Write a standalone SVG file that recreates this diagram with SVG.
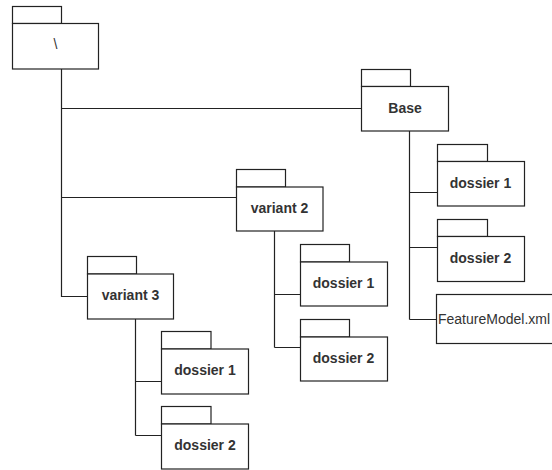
<svg xmlns="http://www.w3.org/2000/svg" width="552" height="470" viewBox="0 0 552 470">
<style>
.s{fill:#fff;stroke:#222;stroke-width:1.2}
.c{fill:none;stroke:#222;stroke-width:1.2}
.t{font-family:"Liberation Sans",Arial,sans-serif;font-size:14px;font-weight:bold;fill:#333;text-anchor:middle;dominant-baseline:central}
.tn{font-weight:normal}
.tl{font-family:"Liberation Sans",Arial,sans-serif;font-size:14px;fill:#333;dominant-baseline:central}
</style>
<rect width="552" height="470" fill="#fff"/>
<g id="connectors">
<path class="c" d="M61.5,69 V297 M61.5,108.5 H361.5 M61.5,197.5 H236.5 M61.5,296.5 H87.5"/>
<path class="c" d="M409.5,131 V319.5 M409.5,192.5 H437.5 M409.5,247.5 H437.5 M409.5,319.5 H436.5"/>
<path class="c" d="M274.5,231 V347.5 M274.5,294.5 H300.5 M274.5,347.5 H300.5"/>
<path class="c" d="M135.5,319 V435.5 M135.5,381.5 H161.5 M135.5,435.5 H161.5"/>
</g>
<g id="root">
<rect class="s" x="12.5" y="6.5" width="49" height="17"/>
<rect class="s" x="12.5" y="23.5" width="86" height="45.5"/>
<text class="t tn" x="55.5" y="44">\</text>
</g>
<g id="base">
<rect class="s" x="361.5" y="69.5" width="49" height="17"/>
<rect class="s" x="361.5" y="86.5" width="87" height="44.5"/>
<text class="t" x="405" y="107.5">Base</text>
</g>
<g id="base-dossier1">
<rect class="s" x="437.5" y="144.5" width="50" height="17"/>
<rect class="s" x="437.5" y="161.5" width="87" height="44.5"/>
<text class="t" x="480.5" y="182.5">dossier 1</text>
</g>
<g id="base-dossier2">
<rect class="s" x="437.5" y="219.5" width="50" height="17"/>
<rect class="s" x="437.5" y="236.5" width="87" height="45"/>
<text class="t" x="480.5" y="258">dossier 2</text>
</g>
<g id="featuremodel">
<rect class="s" x="436.5" y="294.5" width="130" height="49"/>
<text class="tl" x="438" y="319">FeatureModel.xml</text>
</g>
<g id="variant2">
<rect class="s" x="236.5" y="169.5" width="49" height="17.5"/>
<rect class="s" x="236.5" y="187" width="86.5" height="44"/>
<text class="t" x="279.5" y="208">variant 2</text>
</g>
<g id="v2-dossier1">
<rect class="s" x="300.5" y="244.5" width="49" height="17.5"/>
<rect class="s" x="300.5" y="262" width="87" height="44"/>
<text class="t" x="343.5" y="282.5">dossier 1</text>
</g>
<g id="v2-dossier2">
<rect class="s" x="300.5" y="319.5" width="49" height="17.5"/>
<rect class="s" x="300.5" y="337" width="87" height="44"/>
<text class="t" x="343.5" y="357.5">dossier 2</text>
</g>
<g id="variant3">
<rect class="s" x="87.5" y="256.5" width="49" height="17.5"/>
<rect class="s" x="87.5" y="274" width="86" height="45"/>
<text class="t" x="130.5" y="295">variant 3</text>
</g>
<g id="v3-dossier1">
<rect class="s" x="161.5" y="331.5" width="49.5" height="17.5"/>
<rect class="s" x="161.5" y="349" width="87" height="45"/>
<text class="t" x="205" y="370">dossier 1</text>
</g>
<g id="v3-dossier2">
<rect class="s" x="161.5" y="406.5" width="49.5" height="17.5"/>
<rect class="s" x="161.5" y="424" width="87" height="45"/>
<text class="t" x="205" y="445">dossier 2</text>
</g>
</svg>
